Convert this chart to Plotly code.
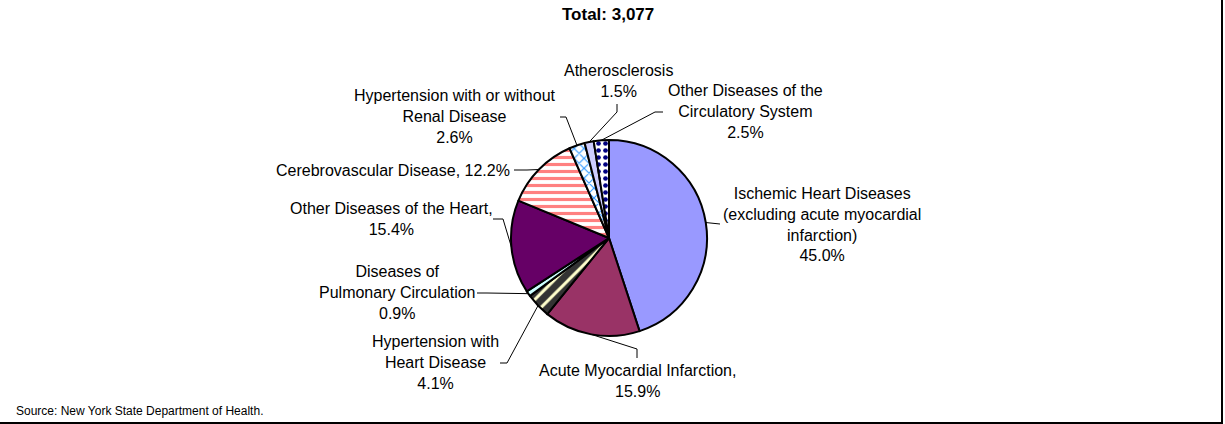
import math
import plotly.graph_objects as go

# ---------------- data ----------------
categories = [
    "Ischemic Heart Diseases<br>(excluding acute myocardial<br>infarction)",
    "Acute Myocardial Infarction,",
    "Hypertension with<br>Heart Disease",
    "Diseases of<br>Pulmonary Circulation",
    "Other Diseases of the Heart,",
    "Cerebrovascular Disease,",
    "Hypertension with or without<br>Renal Disease",
    "Atherosclerosis",
    "Other Diseases of the<br>Circulatory System",
]
values = [45.0, 15.9, 4.1, 0.9, 15.4, 12.2, 2.6, 1.5, 2.5]
total_deaths = 3077
source_text = "Source: New York State Department of Health."

# ---------------- styles ----------------
colors = ["#9999FF", "#993366", "#333333", "#CCFFFF", "#660066",
          "#FFFFFF", "#FFFFFF", "#CCCCFF", "#FFFFFF"]
pat_shapes = ["", "", "/", "", "", "-", "x", "", "."]
pat_fg = ["#9999FF", "#993366", "#FFFFCC", "#CCFFFF", "#660066",
          "#FF8080", "#3399FF", "#CCCCFF", "#000080"]
pat_bg = ["#9999FF", "#993366", "#333333", "#CCFFFF", "#660066",
          "#FFFFFF", "#FFFFFF", "#CCCCFF", "#FFFFFF"]
pat_size = [8, 8, 10, 8, 8, 7, 7, 8, 7]
pat_sol = [0.3, 0.3, 0.3, 0.3, 0.3, 0.45, 0.3, 0.3, 0.35]

W, H = 1225, 424
CX, CY, R = 609, 238, 98
FONT = "Liberation Sans, Arial, sans-serif"

# label text centres (px) and anchors, leader elbows (px)
label_pos = [(822, 224, "center"), (637, 381, "center"), (435, 362, "center"),
             (397, 292, "center"), (391, 219, "center"), (512, 170, "right"),
             (455, 117, "center"), (619, 81, "center"), (745, 112, "center")]
elbows = [
    [(720, 224)],
    [(637, 358), (637, 349)],
    [(500, 363), (507, 363)],
    [(477, 293), (487, 293)],
    [(493, 219), (503, 219)],
    [(514, 170), (527, 170)],
    [(560, 117), (566, 117)],
    [(617, 104), (617, 112)],
    [(663, 112), (655, 112)],
]


def px(x):
    return x / W


def py(y):
    return 1 - y / H


fig = go.Figure(go.Pie(
    labels=[c.replace("<br>", " ") for c in categories],
    values=values,
    sort=False,
    direction="clockwise",
    rotation=0,
    textinfo="none",
    hoverinfo="label+percent",
    domain=dict(x=[px(CX - R), px(CX + R)], y=[py(CY + R), py(CY - R)]),
    marker=dict(
        colors=colors,
        line=dict(color="#000000", width=2),
        pattern=dict(shape=pat_shapes, fgcolor=pat_fg, bgcolor=pat_bg,
                     size=pat_size, solidity=pat_sol, fillmode="replace"),
    ),
    showlegend=False,
))

tot = sum(values)
cum = 0.0
shapes = []
annotations = []
for i, v in enumerate(values):
    frac = (cum + v / 2) / tot
    cum += v
    a = 2 * math.pi * frac
    tx = CX + R * math.sin(a)
    ty = CY - R * math.cos(a)
    pts = elbows[i] + [(tx, ty)]
    path = "M {} {}".format(px(pts[0][0]), py(pts[0][1]))
    for (x, y) in pts[1:]:
        path += " L {} {}".format(px(x), py(y))
    shapes.append(dict(type="path", path=path, xref="paper", yref="paper",
                       line=dict(color="#000000", width=1)))
    lx, ly, anc = label_pos[i]
    if categories[i].endswith(","):
        sep = " " if anc == "right" else "<br>"
    else:
        sep = "<br>"
    txt = categories[i] + sep + f"{v:.1f}%"
    annotations.append(dict(x=px(lx), y=py(ly), xref="paper", yref="paper",
                            text=txt, showarrow=False, xanchor=anc,
                            yanchor="middle", align="center",
                            font=dict(family=FONT, size=16, color="#000000")))

annotations.append(dict(x=px(608), y=py(15), xref="paper", yref="paper",
                        text=f"<b>Total: {total_deaths:,}</b>", showarrow=False,
                        xanchor="center", yanchor="middle",
                        font=dict(family=FONT, size=17, color="#000000")))
annotations.append(dict(x=px(14), y=py(411), xref="paper", yref="paper",
                        text=source_text, showarrow=False,
                        xanchor="left", yanchor="middle",
                        font=dict(family=FONT, size=12, color="#000000")))

# frame lines (right and bottom)
shapes.append(dict(type="line", xref="paper", yref="paper",
                   x0=px(1222), x1=px(1222), y0=py(0), y1=py(423),
                   line=dict(color="#000000", width=2)))
shapes.append(dict(type="line", xref="paper", yref="paper",
                   x0=px(0), x1=px(1223), y0=py(423), y1=py(423),
                   line=dict(color="#000000", width=2)))

fig.update_layout(
    width=W, height=H, autosize=False,
    margin=dict(l=0, r=0, t=0, b=0),
    paper_bgcolor="#FFFFFF", plot_bgcolor="#FFFFFF",
    shapes=shapes, annotations=annotations,
    font=dict(family=FONT, color="#000000"),
)

fig.write_html("out.html",
               config={"displayModeBar": False},
               post_script="document.body.style.margin='0';"
                           "document.body.style.overflow='hidden';")
